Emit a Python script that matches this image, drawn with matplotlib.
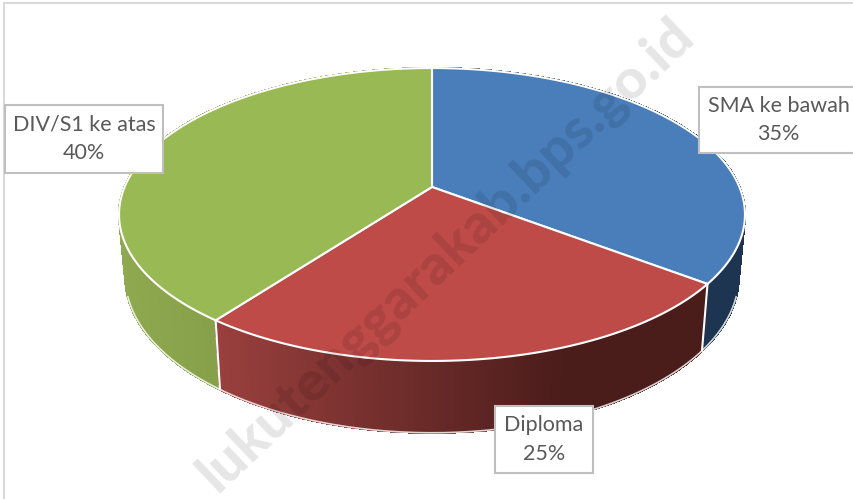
import numpy as np
import matplotlib
matplotlib.use('Agg')
import matplotlib.pyplot as plt
from matplotlib.collections import PolyCollection
from matplotlib.colors import to_rgb
from matplotlib.patches import Polygon, Rectangle

# labels show them rounded
categories = ['SMA ke bawah', 'Diploma', 'DIV/S1 ke atas']
shares = [35.4, 24.8, 39.8]
top_colors = ['#4a7ebb', '#be4b48', '#98b954']
side_left = ['#1d3550', '#9a403e', '#8ea94f']
side_right = ['#1d3550', '#4a1c1a', '#738e3d']
label_boxes = [(699, 87, 160, 66), (495, 406, 98, 67), (5, 105, 158, 68)]

watermark = 'lukutenggarakab.bps.go.id'

# pie plane in perspective, all in image pixels
CX, CY = 432, 187
A, B, K = 307.4, 141.3, 0.1877


def project(theta):
    u, v = np.sin(theta), -np.cos(theta)
    w = 1 - K * v
    return CX + A * u / w, CY + B * v / w


def lower_rim(x, y):
    return CX + (x - CX) * 0.98, y * 1.066 + 48


def main():
    fig = plt.figure(figsize=(8.54, 4.99), dpi=100)
    ax = fig.add_axes([0, 0, 1, 1])
    ax.set_xlim(0, 854)
    ax.set_ylim(499, 0)
    ax.axis('off')

    ax.add_patch(Rectangle((4, 3), 900, 600, fc='white', ec='#d9d9d9', lw=1.5))

    edges = np.cumsum([0] + shares) / sum(shares) * 2 * np.pi

    # side wall, back to front
    quads, colors = [], []
    for i in range(len(shares)):
        th = np.linspace(edges[i], edges[i + 1], 200)
        x, y = project(th)
        xb, yb = lower_rim(x, y)
        span = max(x.max() - x.min(), 1)
        c0, c1 = np.array(to_rgb(side_left[i])), np.array(to_rgb(side_right[i]))
        for j in range(len(th) - 1):
            f = (x[j] - x.min()) / span
            if i == 1:
                f = min(1, f * 1.4)
            quads.append([(x[j], y[j]), (x[j + 1], y[j + 1]), (xb[j + 1], yb[j + 1]), (xb[j], yb[j])])
            colors.append(tuple(c0 + (c1 - c0) * f))
    order = np.argsort([q[2][1] for q in quads])
    ax.add_collection(PolyCollection([quads[k] for k in order], facecolors=[colors[k] for k in order],
                                     edgecolors=[colors[k] for k in order], linewidths=1.0,
                                     antialiaseds=False, zorder=2))

    # thin light rim under the wall hides the jagged edge
    th = np.radians(np.linspace(108, 252, 200))
    xb, yb = lower_rim(*project(th))
    ax.plot(xb, yb, color='white', lw=1.2, alpha=0.8, zorder=3)

    # white seams on the wall
    for t in edges[1:3]:
        x, y = project(t)
        xb, yb = lower_rim(x, y)
        ax.plot([x, xb], [y, yb], color='white', lw=1.5, zorder=3)

    # top face
    for i in range(len(shares)):
        th = np.linspace(edges[i], edges[i + 1], 300)
        x, y = project(th)
        pts = np.column_stack([np.r_[CX, x], np.r_[CY, y]])
        ax.add_patch(Polygon(pts, closed=True, fc=top_colors[i], ec='white', lw=1.5, zorder=4, joinstyle='round'))

    for name, val, box in zip(categories, shares, label_boxes):
        x0, y0, w, h = box
        ax.add_patch(Rectangle((x0, y0), w, h, fc='white', ec='#bfbfbf', lw=1.5, zorder=5))
        ax.text(x0 + min(w, 159) / 2, y0 + h / 2, f'{name}\n{round(val)}%', ha='center', va='center',
                fontsize=15.5, family='Lato', color='#595959', linespacing=1.55, zorder=6)

    ax.text(686, 27, watermark, rotation=43.5, rotation_mode='anchor', ha='right', va='center',
            fontsize=40.5, family='Lato', fontweight=900, color='black', alpha=0.1, zorder=7)

    fig.savefig('out.png', dpi=100)
    plt.close(fig)


if __name__ == '__main__':
    main()
